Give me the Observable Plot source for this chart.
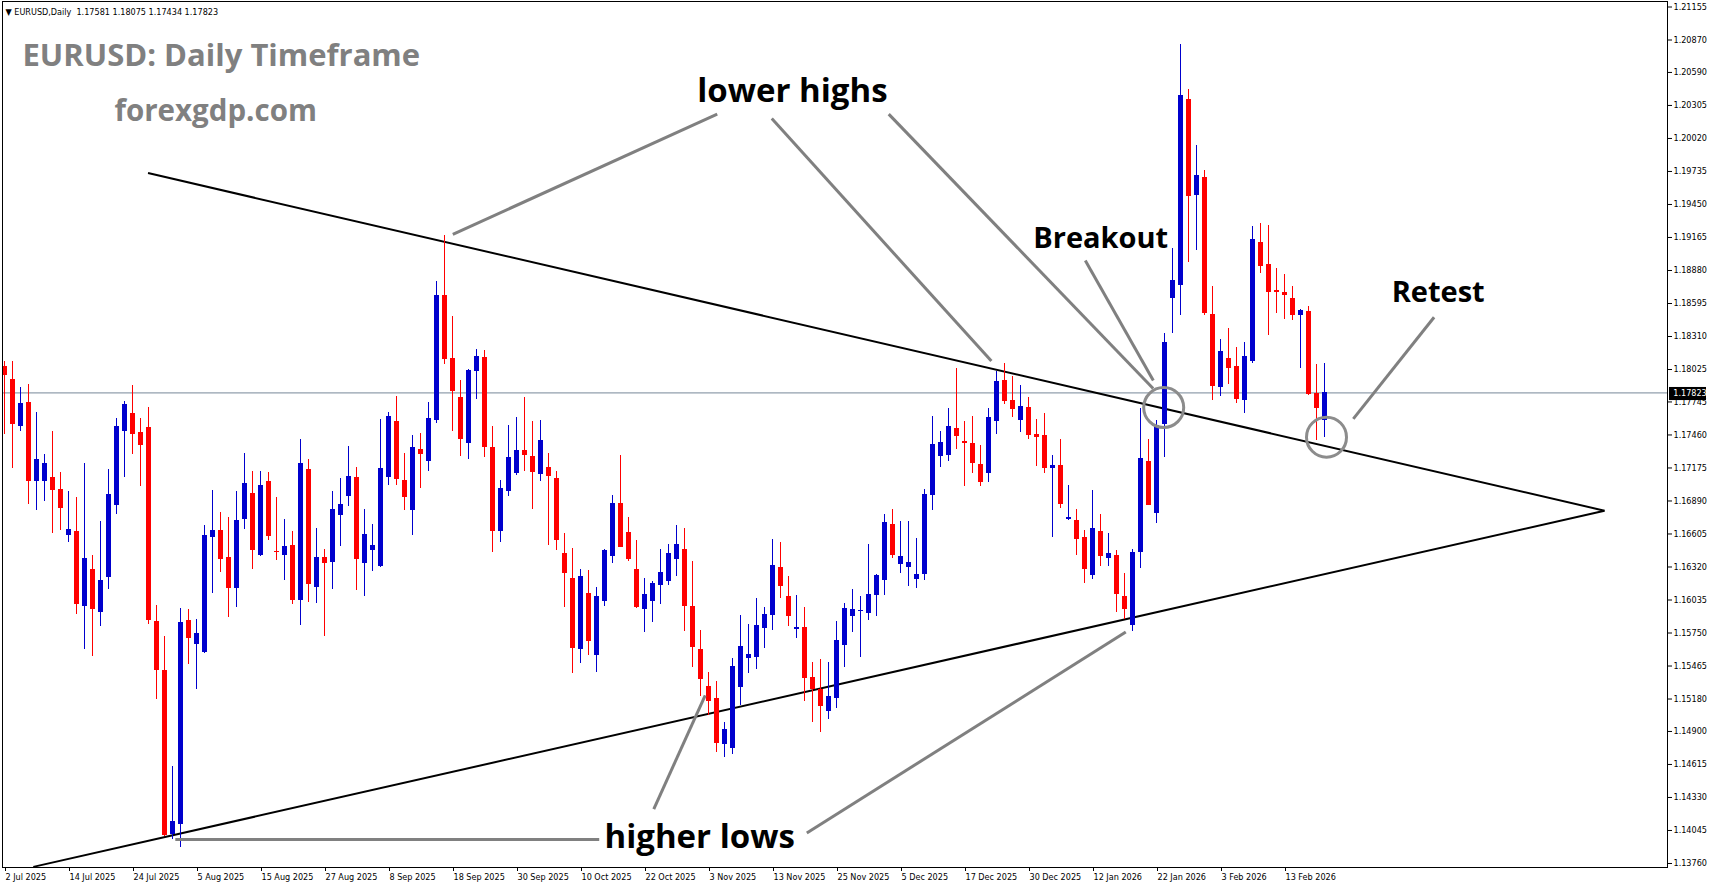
<!DOCTYPE html>
<html><head><meta charset="utf-8">
<script src="https://cdn.jsdelivr.net/npm/d3@7"></script>
<script src="https://cdn.jsdelivr.net/npm/@observablehq/plot@0.6"></script>
<style>
html,body{margin:0;padding:0;background:#fff;overflow:hidden}
svg{display:block}
</style></head><body><div id="chart"></div>
<script>
// ---- data (EURUSD daily, bar index 0 = 2 Jul 2025) ----
const open = [1.18053,1.17939,1.17535,1.17740,1.17060,1.17060,1.17092,1.16988,1.16594,1.16626,
1.15982,1.16298,1.15930,1.16232,1.16853,1.17492,1.17645,1.17481,1.17524,1.15850,
1.15427,1.14013,1.14099,1.15859,1.15653,1.15585,1.16576,1.16635,1.16402,1.16137,
1.16733,1.16954,1.16422,1.17057,1.16458,1.16422,1.16505,1.16034,1.17161,1.16145,
1.16402,1.16361,1.16767,1.16931,1.17092,1.16352,1.16464,1.16327,1.17094,1.17576,
1.17067,1.16810,1.17334,1.17231,1.17584,1.18664,1.18120,1.17783,1.17389,1.18008,
1.18129,1.17352,1.16626,1.16971,1.17127,1.17326,1.17274,1.17118,1.17179,1.17084,
1.16436,1.16220,1.15611,1.16091,1.15559,1.16025,1.16413,1.16868,1.16618,1.16298,
1.15956,1.16025,1.16163,1.16197,1.16387,1.16471,1.15979,1.15608,1.15289,1.15184,
1.14790,1.14756,1.15282,1.15532,1.15541,1.15792,1.15904,1.16315,1.16065,1.15783,
1.15800,1.15366,1.15262,1.15075,1.15188,1.15645,1.15896,1.15939,1.15922,1.16077,
1.16206,1.16689,1.16344,1.16318,1.16215,1.16258,1.16940,1.17276,1.17285,1.17515,
1.17406,1.17386,1.17205,1.17130,1.17579,1.17928,1.17761,1.17582,1.17700,1.17465,
1.17452,1.17173,1.17196,1.16733,1.16719,1.16575,1.16249,1.16626,1.16397,1.16417,
1.16061,1.15813,1.16443,1.17230,1.16786,1.17552,1.18641,1.18751,1.20354,1.19531,
1.19685,1.18500,1.17871,1.18123,1.18053,1.17754,1.18090,1.19121,1.18936,1.18711,
1.18694,1.18641,1.18493,1.18527,1.17818,1.17581];
const high = [1.18094,1.18094,1.17872,1.17896,1.17653,1.17291,1.17489,1.17135,1.16971,1.16922,
1.17213,1.16419,1.16713,1.17161,1.17602,1.17748,1.17887,1.17602,1.17694,1.15988,
1.15720,1.14600,1.15965,1.15953,1.15870,1.16678,1.16980,1.16790,1.16747,1.16971,
1.17300,1.17144,1.17144,1.17135,1.16920,1.16730,1.16626,1.17420,1.17248,1.16652,
1.16471,1.16971,1.17083,1.17360,1.17179,1.16816,1.16687,1.17593,1.17653,1.17792,
1.17300,1.17455,1.17472,1.17740,1.18785,1.19182,1.18483,1.17932,1.18025,1.18198,
1.18189,1.17533,1.17067,1.17541,1.17610,1.17783,1.17576,1.17584,1.17300,1.17144,
1.16609,1.16479,1.16298,1.16290,1.16143,1.16471,1.16937,1.17283,1.16747,1.16549,
1.16220,1.16194,1.16471,1.16514,1.16678,1.16652,1.16367,1.15772,1.15410,1.15332,
1.14980,1.15530,1.15901,1.15824,1.16048,1.15971,1.16557,1.16531,1.16238,1.16074,
1.15971,1.15496,1.15522,1.15499,1.15853,1.16005,1.16126,1.16068,1.16517,1.16258,
1.16776,1.16816,1.16713,1.16713,1.16566,1.16989,1.17619,1.17489,1.17688,1.18034,
1.17576,1.17619,1.17369,1.17688,1.18008,1.18073,1.17962,1.17884,1.17784,1.17593,
1.17643,1.17283,1.17418,1.17022,1.16820,1.16635,1.16981,1.16770,1.16609,1.16461,
1.16262,1.16474,1.17687,1.17424,1.17584,1.18338,1.19071,1.20828,1.20442,1.19957,
1.19742,1.18742,1.18282,1.18379,1.18214,1.18255,1.19262,1.19289,1.19272,1.18896,
1.18845,1.18742,1.18544,1.18567,1.18069,1.18075];
const low = [1.17463,1.17167,1.17492,1.16857,1.16810,1.16888,1.16612,1.16635,1.16534,1.15913,
1.15611,1.15550,1.15809,1.16128,1.16776,1.17094,1.17293,1.17017,1.15826,1.15178,
1.13991,1.13967,1.13900,1.15481,1.15265,1.15575,1.16094,1.16275,1.15887,1.15973,
1.16646,1.16301,1.16413,1.16551,1.16379,1.16206,1.15999,1.15818,1.16016,1.16008,
1.15723,1.16128,1.16500,1.16845,1.16120,1.16067,1.16283,1.16318,1.17025,1.17025,
1.16810,1.16594,1.17000,1.17144,1.17561,1.18071,1.17492,1.17274,1.17248,1.17766,
1.17265,1.16445,1.16531,1.16928,1.17110,1.17144,1.16816,1.17058,1.16505,1.16462,
1.15971,1.15401,1.15490,1.15559,1.15412,1.15982,1.16352,1.16491,1.16370,1.15965,
1.15757,1.15844,1.15999,1.16163,1.16241,1.15766,1.15455,1.15204,1.15040,1.14721,
1.14675,1.14701,1.15124,1.15401,1.15437,1.15619,1.15775,1.16051,1.15809,1.15705,
1.15161,1.14980,1.14893,1.15006,1.15101,1.15455,1.15757,1.15541,1.15862,1.15896,
1.16077,1.16396,1.16266,1.16154,1.16137,1.16206,1.16810,1.17182,1.17233,1.17337,
1.17017,1.17130,1.17017,1.17052,1.17467,1.17720,1.17609,1.17485,1.17424,1.17189,
1.17129,1.16578,1.16826,1.16719,1.16417,1.16175,1.16208,1.16322,1.16322,1.15923,
1.15863,1.15762,1.16310,1.16851,1.16692,1.17267,1.18338,1.18493,1.18953,1.19054,
1.18493,1.17754,1.17788,1.17895,1.17733,1.17649,1.18080,1.18852,1.18321,1.18509,
1.18459,1.18449,1.18036,1.17801,1.17412,1.17434];
const close = [1.17979,1.17561,1.17731,1.17069,1.17248,1.17213,1.16991,1.16836,1.16644,1.16008,
1.16393,1.15965,1.16203,1.16945,1.17533,1.17722,1.17475,1.17380,1.15870,1.15437,
1.14013,1.14123,1.15841,1.15714,1.15746,1.16592,1.16635,1.16396,1.16145,1.16721,
1.17040,1.16474,1.17023,1.16594,1.16452,1.16497,1.16043,1.17213,1.16177,1.16402,
1.16361,1.16816,1.16860,1.17101,1.16396,1.16600,1.16505,1.17170,1.17619,1.17085,
1.16931,1.17351,1.17302,1.17602,1.18664,1.18123,1.17847,1.17429,1.18017,1.18138,
1.17363,1.16635,1.16998,1.17265,1.17326,1.17291,1.17144,1.17412,1.17110,1.16557,
1.16272,1.15628,1.16238,1.15688,1.16065,1.16462,1.16868,1.16500,1.16396,1.15982,
1.16082,1.16177,1.16272,1.16436,1.16514,1.15990,1.15637,1.15360,1.15170,1.14807,
1.14920,1.15461,1.15634,1.15564,1.15815,1.15910,1.16333,1.16163,1.15904,1.15800,
1.15369,1.15274,1.15126,1.15205,1.15688,1.15965,1.15956,1.15948,1.16085,1.16249,
1.16707,1.16430,1.16410,1.16361,1.16258,1.16945,1.17377,1.17395,1.17533,1.17458,
1.17392,1.17224,1.17060,1.17610,1.17921,1.17761,1.17686,1.17710,1.17468,1.17448,
1.17182,1.17200,1.16870,1.16746,1.16568,1.16310,1.16652,1.16417,1.16440,1.16088,
1.15964,1.16443,1.17257,1.16860,1.17541,1.18258,1.18792,1.20387,1.19524,1.19699,
1.18520,1.17888,1.18180,1.18046,1.17777,1.18136,1.19148,1.18926,1.18701,1.18701,
1.18674,1.18503,1.18537,1.17818,1.17700,1.17823];

const dateIdx = [0,8,16,24,32,40,48,56,64,72,80,88,96,104,112,120,128,136,144,152,160];
const dateLabels = ["2 Jul 2025","14 Jul 2025","24 Jul 2025","5 Aug 2025","15 Aug 2025","27 Aug 2025",
"8 Sep 2025","18 Sep 2025","30 Sep 2025","10 Oct 2025","22 Oct 2025","3 Nov 2025","13 Nov 2025",
"25 Nov 2025","5 Dec 2025","17 Dec 2025","30 Dec 2025","12 Jan 2026","22 Jan 2026","3 Feb 2026","13 Feb 2026"];
const priceTicks = [1.21155,1.20870,1.20590,1.20305,1.20020,1.19735,1.19450,1.19165,1.18880,1.18595,
1.18310,1.18025,1.17745,1.17460,1.17175,1.16890,1.16605,1.16320,1.16035,1.15750,1.15465,1.15180,
1.14900,1.14615,1.14330,1.14045,1.13760];

// trendlines (bar index, price)
const trendX1 = [17.94, 3.6], trendY1 = [1.19721, 1.13731];
const trendX2 = [200, 200],   trendY2 = [1.16806, 1.16806];
// grey pointer lines
const ptrX1 = [89.09, 95.91, 110.53, 135.1, 178.7, 74.34, 81.16, 100.29];
const ptrY1 = [1.20230, 1.20192, 1.20230, 1.18966, 1.18476, 1.13967, 1.14230, 1.14023];
const ptrX2 = [56.04, 123.36, 143.58, 143.6, 168.6, 21.35, 87.59, 140.16];
const ptrY2 = [1.19192, 1.18098, 1.17861, 1.17930, 1.17599, 1.13967, 1.15212, 1.15759];
// circles
const circX = [144.9, 165.25], circY = [1.17697, 1.17441];
// annotation labels
const noteText = ["lower highs", "Breakout", "Retest", "higher lows"];
const noteX = [86.6, 128.6, 173.4, 75];
const noteY = [1.20334, 1.19078, 1.18612, 1.13898];

const header = "\u25BC EURUSD,Daily\u00a0 1.17581 1.18075 1.17434 1.17823";
const title = "EURUSD: Daily Timeframe";
const site = "forexgdp.com";

// ---- build ----
const BLUE = "#0000cd", RED = "#ff0000";
const bars = open.map((o, i) => ({i, o, h: high[i], l: low[i], c: close[i], up: close[i] >= o}));
const lastClose = close[close.length - 1];
const trend = trendX1.map((d, k) => ({x1: d, y1: trendY1[k], x2: trendX2[k], y2: trendY2[k]}));
const ptrs = ptrX1.map((d, k) => ({x1: d, y1: ptrY1[k], x2: ptrX2[k], y2: ptrY2[k]}));
const circs = circX.map((d, k) => ({x: d, y: circY[k]}));
const notes = noteText.map((t, k) => ({t, x: noteX[k], y: noteY[k]}));
const bigNotes = notes.filter(d => d.t.includes(" "));
const smallNotes = notes.filter(d => !d.t.includes(" "));
const labelMap = new Map(dateIdx.map((d, k) => [d, dateLabels[k]]));
const axisFont = "'DejaVu Sans Condensed', 'DejaVu Sans', sans-serif";
const noteFont = "'Open Sans', sans-serif";

const chart = Plot.plot({
  width: 1713, height: 888,
  marginLeft: 2, marginRight: 46, marginTop: 1, marginBottom: 21,
  style: {fontFamily: axisFont, fontSize: "9px", background: "#fff", color: "#000"},
  x: {type: "linear", domain: [-0.25, 207.875], axis: null},
  y: {type: "linear", domain: [1.137254, 1.212025], axis: null},
  marks: [
    Plot.ruleY([lastClose], {stroke: "#778899", strokeWidth: 1}),
    Plot.link(trend, {x1: "x1", y1: "y1", x2: "x2", y2: "y2", stroke: "#000", strokeWidth: 2}),
    Plot.ruleX(bars, {x: "i", y1: "l", y2: "h", stroke: d => d.up ? BLUE : RED, strokeWidth: 1, shapeRendering: "crispEdges"}),
    Plot.rect(bars, {x1: d => d.i - 0.25, x2: d => d.i + 0.375, y1: "o", y2: "c", fill: d => d.up ? BLUE : RED, shapeRendering: "crispEdges"}),
    Plot.ruleY(bars, {y: "c", x1: d => d.i - 0.25, x2: d => d.i + 0.375, stroke: d => d.up ? BLUE : RED, shapeRendering: "crispEdges"}),
    Plot.link(ptrs, {x1: "x1", y1: "y1", x2: "x2", y2: "y2", stroke: "#808080", strokeWidth: 3}),
    Plot.dot(circs, {x: "x", y: "y", r: 20, stroke: "#8c8c8c", strokeWidth: 3, fill: "none"}),
    Plot.text(bigNotes, {x: "x", y: "y", text: "t", textAnchor: "start", lineAnchor: "bottom",
      fontSize: 33, fontWeight: "bold", fontFamily: noteFont, fill: "#000"}),
    Plot.text(smallNotes, {x: "x", y: "y", text: "t", textAnchor: "start", lineAnchor: "bottom",
      fontSize: 29, fontWeight: "bold", fontFamily: noteFont, fill: "#000"}),
    Plot.text([header], {frameAnchor: "top-left", dx: 3, dy: 13, textAnchor: "start", lineAnchor: "bottom",
      fontSize: 9, fontFamily: axisFont, fill: "#000"}),
    Plot.text([title], {frameAnchor: "top-left", dx: 20, dy: 64, textAnchor: "start", lineAnchor: "bottom",
      fontSize: 31, fontWeight: "bold", fontFamily: noteFont, fill: "#808080"}),
    Plot.text([site], {frameAnchor: "top-left", dx: 112, dy: 119, textAnchor: "start", lineAnchor: "bottom",
      fontSize: 29.5, fontWeight: "bold", fontFamily: noteFont, fill: "#808080"}),
    Plot.frame({stroke: "#000"}),
    Plot.axisY(priceTicks, {anchor: "right", tickSize: 4, tickPadding: 2, tickFormat: d => d.toFixed(5),
      fontSize: 9, fontFamily: axisFont, fill: "#000", stroke: "#000"}),
    Plot.axisX(dateIdx, {anchor: "bottom", tickSize: 4, tickPadding: 2, tickFormat: d => labelMap.get(d),
      textAnchor: "start", dx: 1, fontSize: 9, fontFamily: axisFont, fill: "#000", stroke: "#000"}),
    Plot.rect([lastClose], {x1: 208.125, x2: 212.75, y1: d => d + 0.00047, y2: d => d - 0.00066, fill: "#000"}),
    Plot.text([lastClose], {x: 208.6, y: d => d, text: d => d.toFixed(5), textAnchor: "start",
      fill: "#fff", fontSize: 9, fontFamily: axisFont})
  ]
});
document.getElementById("chart").appendChild(chart);
</script>
</body></html>
